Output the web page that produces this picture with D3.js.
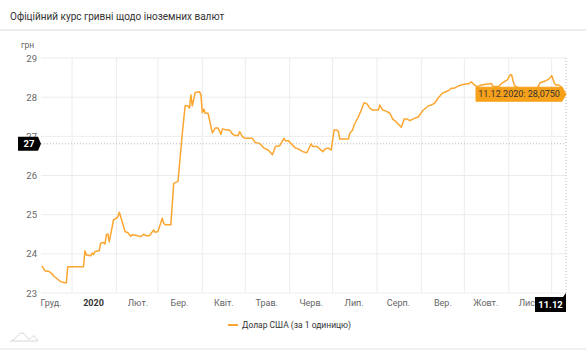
<!DOCTYPE html>
<html>
<head>
<meta charset="utf-8">
<script src="https://cdn.jsdelivr.net/npm/d3@7"></script>
<style>
  body { margin: 0; background: #fff; }
  svg { display: block; font-family: Roboto, "Noto Sans", sans-serif; }
</style>
</head>
<body>
<div id="chart"></div>
<script>
const W = 586, H = 350;

// readings: NBU rate, UAH per 1 USD
const dates = [
  "2019-12-11","2019-12-13","2019-12-16","2019-12-18","2019-12-19","2019-12-22","2019-12-24","2019-12-27","2019-12-28","2019-12-29",
  "2020-01-09","2020-01-10","2020-01-11","2020-01-14","2020-01-15","2020-01-16","2020-01-17","2020-01-20","2020-01-21","2020-01-23",
  "2020-01-24","2020-01-25","2020-01-26","2020-01-27","2020-01-29","2020-01-30","2020-02-01","2020-02-02","2020-02-03","2020-02-05",
  "2020-02-07","2020-02-09","2020-02-11","2020-02-12","2020-02-15","2020-02-18","2020-02-20","2020-02-22","2020-02-24","2020-02-27",
  "2020-02-28","2020-03-01","2020-03-04","2020-03-05","2020-03-06","2020-03-10","2020-03-12","2020-03-15","2020-03-18","2020-03-20",
  "2020-03-22","2020-03-23","2020-03-24","2020-03-25","2020-03-27","2020-03-30","2020-03-31","2020-04-01","2020-04-02","2020-04-03",
  "2020-04-05","2020-04-07","2020-04-08","2020-04-10","2020-04-12","2020-04-14","2020-04-15","2020-04-18","2020-04-20","2020-04-22",
  "2020-04-24","2020-04-26","2020-04-27","2020-04-29","2020-05-01","2020-05-06","2020-05-08","2020-05-11","2020-05-14","2020-05-17",
  "2020-05-20","2020-05-22","2020-05-25","2020-05-28","2020-05-29","2020-05-31","2020-06-05","2020-06-07","2020-06-10","2020-06-13",
  "2020-06-16","2020-06-17","2020-06-20","2020-06-22","2020-06-24","2020-06-26","2020-06-28","2020-06-30","2020-07-02","2020-07-04",
  "2020-07-05","2020-07-06","2020-07-12","2020-07-13","2020-07-15","2020-07-16","2020-07-19","2020-07-21","2020-07-23","2020-07-25",
  "2020-07-27","2020-07-29","2020-08-02","2020-08-03","2020-08-05","2020-08-07","2020-08-10","2020-08-12","2020-08-14","2020-08-18",
  "2020-08-20","2020-08-22","2020-08-24","2020-08-26","2020-08-30","2020-09-01","2020-09-02","2020-09-06","2020-09-08","2020-09-10",
  "2020-09-13","2020-09-16","2020-09-18","2020-09-20","2020-09-22","2020-09-24","2020-09-27","2020-10-01","2020-10-03","2020-10-04",
  "2020-10-06","2020-10-08","2020-10-10","2020-10-13","2020-10-16","2020-10-20","2020-10-21","2020-10-25","2020-10-27","2020-10-31",
  "2020-11-02","2020-11-03","2020-11-04","2020-11-05","2020-11-09","2020-11-10","2020-11-13","2020-11-17","2020-11-20","2020-11-21",
  "2020-11-23","2020-11-27","2020-11-29","2020-12-01","2020-12-03","2020-12-04","2020-12-06","2020-12-08","2020-12-09","2020-12-10",
  "2020-12-11"
];
const rates = [
  23.69,23.57,23.55,23.49,23.44,23.35,23.29,23.26,23.26,23.67,
  23.67,24.08,23.97,23.95,24.02,23.98,24.06,24.08,24.27,24.29,
  24.25,24.49,24.51,24.31,24.68,24.87,24.91,24.95,25.06,24.82,
  24.57,24.54,24.45,24.49,24.47,24.44,24.50,24.46,24.46,24.61,
  24.55,24.57,24.91,24.78,24.74,24.74,25.80,25.85,27.08,27.78,
  27.78,27.72,28.06,27.78,28.12,28.14,28.06,27.60,27.70,27.59,
  27.59,27.25,27.09,27.21,27.21,27.05,27.19,27.16,27.16,27.06,
  27.02,27.02,27.12,26.99,26.95,26.95,26.84,26.82,26.70,26.65,
  26.53,26.74,26.76,26.95,26.89,26.89,26.70,26.68,26.61,26.58,
  26.81,26.74,26.74,26.68,26.61,26.68,26.70,26.65,27.16,27.16,
  27.13,26.93,26.93,27.08,27.16,27.29,27.50,27.67,27.86,27.83,
  27.72,27.67,27.67,27.80,27.67,27.65,27.59,27.44,27.38,27.23,
  27.44,27.44,27.40,27.44,27.50,27.61,27.66,27.78,27.80,27.84,
  27.99,28.11,28.14,28.17,28.23,28.23,28.29,28.33,28.34,28.34,
  28.39,28.31,28.27,28.31,28.33,28.35,28.27,28.27,28.35,28.44,
  28.57,28.57,28.42,28.30,28.20,28.15,28.10,28.12,28.18,28.23,
  28.37,28.42,28.46,28.55,28.35,28.31,28.31,28.25,28.20,28.10,
  28.075
];

const yTicks = [23, 24, 25, 26, 27, 28, 29];
const monthNames = ["Січ.","Лют.","Бер.","Квіт.","Трав.","Черв.","Лип.","Серп.","Вер.","Жовт.","Лист.","Груд."];
const seriesName = "Долар США (за 1 одиницю)";
const title = "Офіційний курс гривні щодо іноземних валют";
const unit = "грн";
const hoverLevel = 26.81;   // horizontal crosshair position

const parse = d3.timeParse("%Y-%m-%d");
const data = dates.map((d, i) => ({ date: parse(d), value: rates[i] }));
const last = data[data.length - 1];

const m = { left: 41, right: 20, top: 58, bottom: 57 };
const svg = d3.select("#chart").append("svg").attr("width", W).attr("height", H);

const x = d3.scaleTime()
  .domain(d3.extent(data, d => d.date))
  .range([m.left + 1, W - m.right]);
const y = d3.scaleLinear()
  .domain(d3.extent(yTicks))
  .range([H - m.bottom, m.top]);

// header
svg.append("text").attr("x", 10).attr("y", 20)
  .attr("font-size", 10).attr("fill", "#333").text(title);
svg.append("rect").attr("x", 0).attr("y", 29).attr("width", W).attr("height", 2).attr("fill", "#ececec");
svg.append("rect").attr("x", 0).attr("y", H - 2).attr("width", W).attr("height", 2).attr("fill", "#f0f0f0");

// grid
const months = x.ticks(d3.timeMonth.every(1));
svg.append("g").selectAll("line").data(months).join("line")
  .attr("x1", d => x(d)).attr("x2", d => x(d))
  .attr("y1", m.top).attr("y2", H - m.bottom)
  .attr("stroke", "#ececec");
svg.append("g").selectAll("line").data(yTicks).join("line")
  .attr("x1", m.left).attr("x2", W - m.right)
  .attr("y1", d => y(d)).attr("y2", d => y(d))
  .attr("stroke", "#ececec");

// y labels
svg.append("g").selectAll("text").data(yTicks).join("text")
  .attr("x", 37).attr("y", d => y(d) + 3.5)
  .attr("text-anchor", "end").attr("font-size", 9.5).attr("fill", "#666")
  .text(d => d);
svg.append("text").attr("x", 21).attr("y", 48)
  .attr("font-size", 8.5).attr("fill", "#666").text(unit);

// x labels, centred mid-month
const labelMonths = d3.timeMonth.range(d3.timeMonth.floor(x.domain()[0]), x.domain()[1])
  .filter(d => d3.timeDay.offset(d, 15) <= x.domain()[1]);
svg.append("g").selectAll("text").data(labelMonths).join("text")
  .attr("x", d => Math.max(m.left + 10, x(d3.timeDay.offset(d, 15))))
  .attr("y", 306)
  .attr("text-anchor", "middle").attr("font-size", 9)
  .attr("fill", d => d.getMonth() === 0 ? "#333" : "#666")
  .attr("font-weight", d => d.getMonth() === 0 ? "bold" : null)
  .text(d => d.getMonth() === 0 ? d.getFullYear() : monthNames[d.getMonth()]);

// crosshairs
svg.append("line")
  .attr("x1", m.left).attr("x2", W - m.right)
  .attr("y1", y(hoverLevel)).attr("y2", y(hoverLevel))
  .attr("stroke", "#bbb").attr("stroke-dasharray", "1,2");
svg.append("line")
  .attr("x1", x(last.date)).attr("x2", x(last.date))
  .attr("y1", m.top).attr("y2", H - m.bottom)
  .attr("stroke", "#bbb").attr("stroke-dasharray", "1,2");

// series
const line = d3.line().x(d => x(d.date)).y(d => y(d.value));
svg.append("path").datum(data)
  .attr("d", line).attr("fill", "none")
  .attr("stroke", "#fca630").attr("stroke-width", 1.5).attr("stroke-linejoin", "round");

// y crosshair label
const yl = y(hoverLevel);
svg.append("path")
  .attr("d", `M18,${yl - 7}H38L41,${yl}L38,${yl + 7}H18Z`)
  .attr("fill", "#000");
svg.append("text").attr("x", 29).attr("y", yl + 3.5)
  .attr("text-anchor", "middle").attr("font-size", 9.5).attr("font-weight", "bold").attr("fill", "#fff")
  .text(d3.format(".0f")(hoverLevel));

// x crosshair label
const xl = x(last.date);
svg.append("path")
  .attr("d", `M${xl - 31},297H${xl - 3}L${xl},293V312H${xl - 31}Z`)
  .attr("fill", "#000");
svg.append("text").attr("x", xl - 15.5).attr("y", 308)
  .attr("text-anchor", "middle").attr("font-size", 9.5).attr("font-weight", "bold").attr("fill", "#fff")
  .text(d3.timeFormat("%d.%m")(last.date));

// tooltip
const ty = y(last.value);
svg.append("path")
  .attr("d", `M${xl - 90},${ty - 7}H${xl - 4}L${xl},${ty}L${xl - 4},${ty + 7}H${xl - 90}Z`)
  .attr("fill", "#f7a11a").attr("stroke", "#f7a11a").attr("stroke-linejoin", "round");
svg.append("text").attr("x", xl - 47).attr("y", ty + 3.2)
  .attr("text-anchor", "middle").attr("font-size", 9).attr("fill", "#333")
  .text(d3.timeFormat("%d.%m.%Y")(last.date) + ": " + last.value.toFixed(4).replace(".", ","));

// legend
svg.append("line").attr("x1", 228).attr("x2", 238).attr("y1", 325).attr("y2", 325)
  .attr("stroke", "#fca630").attr("stroke-width", 2);
svg.append("text").attr("x", 242).attr("y", 328)
  .attr("font-size", 8.5).attr("fill", "#333").text(seriesName);

// small navigator icon, bottom left
svg.append("path")
  .attr("d", "M10,341H38M12,340C16,340 18,333 22,333C26,333 26,339 29,339C32,339 32,335 34,336C36,337 36,340 38,340")
  .attr("fill", "none").attr("stroke", "#ccc").attr("stroke-width", 0.8);
</script>
</body>
</html>
